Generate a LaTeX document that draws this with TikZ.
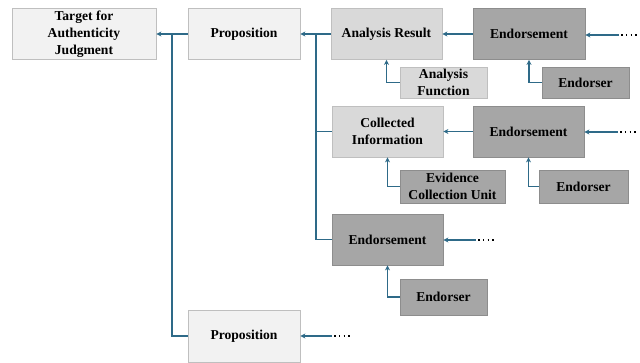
\documentclass[tikz,border=0pt]{standalone}
\usepackage{fontspec}
\setmainfont{Liberation Serif}
\usetikzlibrary{arrows.meta}
\definecolor{paleFill}{HTML}{F2F2F2}
\definecolor{midFill}{HTML}{D9D9D9}
\definecolor{darkFill}{HTML}{A6A6A6}
\definecolor{boxLine}{HTML}{BFBFBF}
\definecolor{linkBlue}{HTML}{2E6A88}
\tikzset{
  box/.style={rectangle,draw=boxLine,line width=0.8pt,align=center,inner sep=2pt,
    font=\fontsize{13.6}{17}\selectfont\bfseries},
  pale/.style={box,fill=paleFill},
  mid/.style={box,fill=midFill},
  dark/.style={box,fill=darkFill,draw=darkFill!85!black},
  link/.style={draw=linkBlue,line width=1.8pt},
  arr/.style={link,-{Stealth[length=5pt,width=5pt]}},
  more/.style={line width=1.5pt,dash pattern=on 1.5pt off 3.3pt}
}
\begin{document}
\begin{tikzpicture}[x=1pt,y=-1pt]
\useasboundingbox (0,0) rectangle (640,362);
\begin{scope}[every node/.append style={minimum height=51pt}]
\node[pale,minimum width=144pt] (Target) at (84,34) {Target for\\Authenticity\\Judgment};
\node[pale,minimum width=112pt] (Prop) at (244,34) {Proposition};
\node[mid,minimum width=111pt] (Result) at (386.5,34) {Analysis Result};
\node[dark,minimum width=112pt] (Endorse) at (529,34) {Endorsement};
\node[mid,minimum width=111pt] (Collected) at (387.5,131.5) {Collected\\Information};
\node[dark,minimum width=111pt] (EndorseB) at (528.5,131.5) {Endorsement};
\node[dark,minimum width=111pt] (EndorseC) at (387.5,239.5) {Endorsement};
\node[pale,minimum width=112pt,minimum height=52pt] (PropB) at (244,336) {Proposition};
\end{scope}

\node[mid,minimum width=87pt,minimum height=31pt] (Function) at (443.5,82.5) {Analysis\\Function};
\node[dark,minimum width=87pt,minimum height=31pt] (Endorser) at (585.5,82.5) {Endorser};
\node[dark,minimum width=105pt,minimum height=33pt] (Unit) at (452.5,186.5) {Evidence\\Collection Unit};
\node[dark,minimum width=89pt,minimum height=33pt] (EndorserB) at (583.5,186.5) {Endorser};
\node[dark,minimum width=87pt,minimum height=36pt] (EndorserC) at (443.5,297) {Endorser};

% trunks and open ends
\coordinate (trunk) at (172,34);
\coordinate (trunkB) at (316,34);
\coordinate (open) at (619,35);
\coordinate (openB) at (618,132);
\coordinate (openC) at (476,240);
\coordinate (openD) at (332,336);

\draw[arr] (Prop) -- (Target);
\draw[link] (PropB.west) -| (trunk);
\draw[arr] (Result) -- (Prop);
\draw[link] (Collected.west) -| (trunkB);
\draw[link] (EndorseC.west) -| (trunkB);

\draw[arr] (Endorse) -- (Result);
\draw[arr] (Function.west) -| (Result.south);
\draw[arr] (Endorser.west) -| (Endorse.south);
\draw[arr] (EndorseB) -- (Collected);
\draw[arr] (Unit.west) -| (Collected.south);
\draw[arr] (EndorserB.west) -| (EndorseB.south);
\draw[arr] (EndorserC.west) -| (EndorseC.south);

\draw[arr] (open) -- (Endorse.east |- open);
\draw[arr] (openB) -- (EndorseB.east |- openB);
\draw[arr] (openC) -- (EndorseC.east |- openC);
\draw[arr] (openD) -- (PropB.east |- openD);
\draw[more] (open) ++(2,0) -- ++(17,0);
\draw[more] (openB) ++(2,0) -- ++(17,0);
\draw[more] (openC) ++(2,0) -- ++(17,0);
\draw[more] (openD) ++(2,0) -- ++(17,0);
\end{tikzpicture}
\end{document}
